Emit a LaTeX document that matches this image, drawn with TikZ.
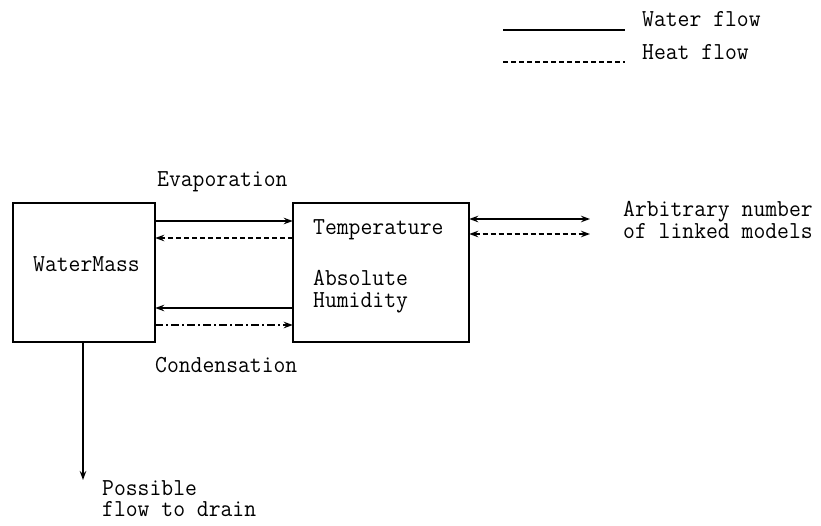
\documentclass[tikz,border=0pt]{standalone}
\usetikzlibrary{arrows.meta}
\newcommand\tx[1]{\scalebox{1}[1.06]{\begin{tabular}{@{}l@{}}#1\end{tabular}}}
\begin{document}
\begin{tikzpicture}[x=1pt,y=-1pt,
  box/.style={draw,line width=2pt},
  lbl/.style={inner sep=0pt,anchor=west,font=\fontsize{23}{20}\selectfont\ttfamily},
  conn/.style={line width=1.4pt},
  tip/.style={-{Stealth[length=9pt,width=6.5pt]}},
  dtip/.style={{Stealth[length=9pt,width=6.5pt]}-{Stealth[length=9pt,width=6.5pt]}},
  heat/.style={dash pattern=on 5pt off 3pt},
  heatdd/.style={dash pattern=on 8pt off 3pt on 2pt off 3pt}]
\useasboundingbox (0,0) rectangle (821,525);
% legend
\coordinate (l1a) at (503,30); \coordinate (l1b) at (625,30);
\coordinate (l2a) at (503,62); \coordinate (l2b) at (625,62);
\draw[line width=2.4pt] (l1a) -- (l1b);
\draw[line width=1.8pt,heat] (l2a) -- (l2b);
\node[lbl] (lw) at (642,22) {\tx{Water flow}};
\node[lbl] (lh) at (642,55) {\tx{Heat flow}};
% boxes
\draw[box] (13,203) rectangle (155,342);
\node[inner sep=0pt,minimum width=142pt,minimum height=139pt] (wmn) at (84,272.5) {};
\node[inner sep=0pt,minimum width=176pt,minimum height=139pt] (tbn) at (381,272.5) {};
\draw[box] (293,203) rectangle (469,342);
\node[lbl] (wmt) at (33,267) {\tx{WaterMass}};
\node[lbl] (tt) at (313,230) {\tx{Temperature}};
\node[lbl] (ah) at (313,292) {\tx{Absolute\\Humidity}};
% labels
\node[lbl] (ev) at (157,182) {\tx{Evaporation}};
\node[lbl] (co) at (155,368) {\tx{Condensation}};
\node[lbl] (ar) at (623,223) {\tx{Arbitrary number\\of linked models}};
\node[lbl] (dr) at (102,502) {\tx{Possible\\flow to drain}};
% connectors between boxes
\draw[conn,tip] (wmn.east |- 0,221) -- (tbn.west |- 0,221);
\draw[conn,tip,heat] (tbn.west |- 0,238) -- (wmn.east |- 0,238);
\draw[conn,tip] (tbn.west |- 0,308) -- (wmn.east |- 0,308);
\draw[conn,tip,heatdd] (wmn.east |- 0,325) -- (tbn.west |- 0,325);
% linked models
\coordinate (m1) at (590,219);
\coordinate (m2) at (590,234);
\draw[conn,dtip] (tbn.east |- m1) -- (m1);
\draw[conn,dtip,heat] (tbn.east |- m2) -- (m2);
% drain
\coordinate (dd) at (83,480);
\draw[conn,tip] (wmn.south -| dd) -- (dd);
\end{tikzpicture}
\end{document}
